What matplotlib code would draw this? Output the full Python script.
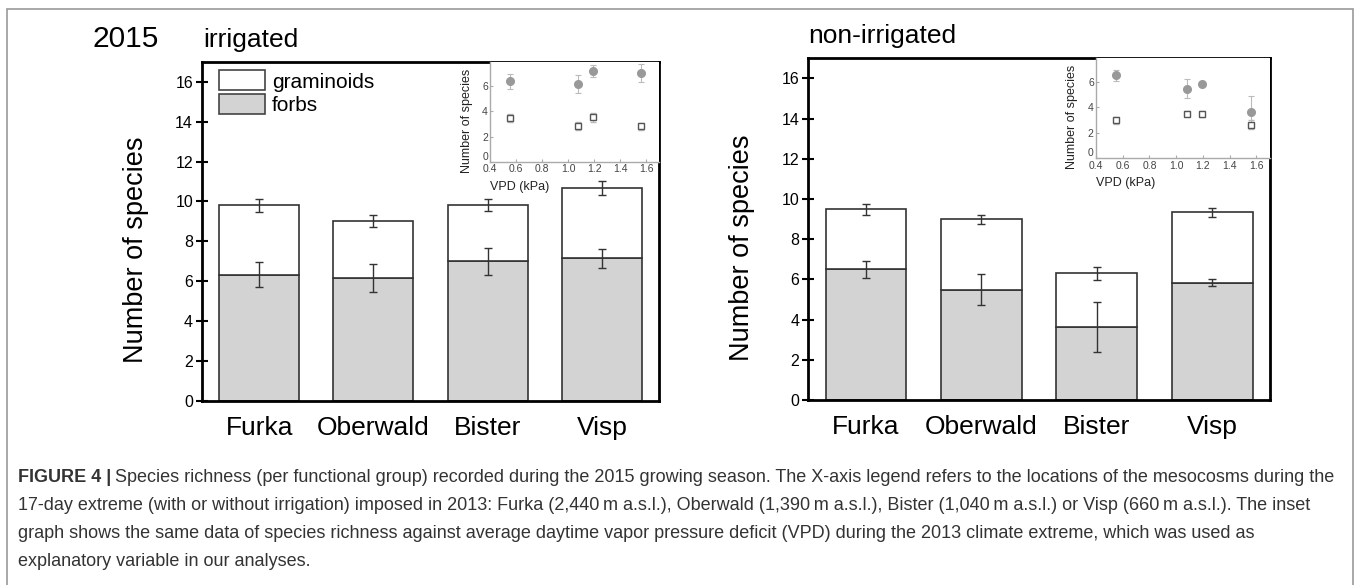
import numpy as np
import matplotlib
matplotlib.use("Agg")
import matplotlib.pyplot as plt
from matplotlib.patches import Patch, Rectangle

plt.rcParams["font.family"] = ["Liberation Sans", "DejaVu Sans"]

# Data
sites = ["Furka", "Oberwald", "Bister", "Visp"]
vpd = [0.55, 1.08, 1.56, 1.19]

irr_forbs = [6.33, 6.15, 7.00, 7.16]
irr_forbs_err = [0.62, 0.71, 0.68, 0.48]
irr_gram = [3.48, 2.86, 2.81, 3.51]
irr_gram_err = [0.33, 0.31, 0.30, 0.35]

non_forbs = [6.51, 5.48, 3.65, 5.83]
non_forbs_err = [0.43, 0.77, 1.25, 0.17]
non_gram = [2.99, 3.52, 2.66, 3.50]
non_gram_err = [0.27, 0.22, 0.33, 0.23]

yticks = [0, 2, 4, 6, 8, 10, 12, 14, 16]
inset_xticks = [0.4, 0.6, 0.8, 1.0, 1.2, 1.4, 1.6]
inset_yticks = [0, 2, 4, 6]

FORB_COLOR = "#d3d3d3"
EDGE = "#333333"

fig = plt.figure(figsize=(13.57, 5.85), dpi=100)


def draw_panel(ax, forbs, forbs_err, gram, gram_err, inset_w, inset_h, legend=False):
    x = np.arange(len(sites))
    forbs = np.array(forbs)
    gram = np.array(gram)
    total = forbs + gram

    ax.bar(x, forbs, width=0.7, color=FORB_COLOR, edgecolor=EDGE, linewidth=1.2, zorder=2)
    ax.bar(x, gram, width=0.7, bottom=forbs, color="white", edgecolor=EDGE, linewidth=1.2, zorder=2)
    ax.errorbar(x, forbs, yerr=forbs_err, fmt="none", ecolor=EDGE, elinewidth=1,
                capsize=3, capthick=1, zorder=3)
    ax.errorbar(x, total, yerr=gram_err, fmt="none", ecolor=EDGE, elinewidth=1,
                capsize=3, capthick=1, zorder=3)

    ax.set_xlim(-0.5, 3.5)
    ax.set_ylim(0, 17)
    ax.set_yticks(yticks)
    ax.set_xticks(x)
    ax.set_xticklabels(sites, fontsize=19)
    ax.tick_params(axis="x", length=0, pad=11)
    ax.tick_params(axis="y", direction="inout", length=9, width=1.5, labelsize=11.5, pad=2)
    for s in ax.spines.values():
        s.set_linewidth(2)
        s.set_color("black")
    ax.set_ylabel("Number of species", fontsize=19.5)
    ax.yaxis.set_label_coords(-0.115, 0.445)

    if legend:
        handles = [Patch(facecolor="white", edgecolor="#444444", linewidth=1.2, label="graminoids"),
                   Patch(facecolor=FORB_COLOR, edgecolor="#444444", linewidth=1.2, label="forbs")]
        ax.legend(handles=handles, loc="upper left", bbox_to_anchor=(0.037, 0.975),
                  frameon=False, fontsize=15, handlelength=2.2, handleheight=1.1,
                  handletextpad=0.35, labelspacing=0.1, borderpad=0, borderaxespad=0)

    # inset: same data against VPD
    ins = ax.inset_axes([1 - inset_w, 1 - inset_h, inset_w, inset_h])
    ins.errorbar(vpd, forbs, yerr=forbs_err, fmt="o", color="#999999", ms=5.5,
                 ecolor="#bbbbbb", elinewidth=0.8, capsize=2, capthick=0.8, zorder=3)
    ins.errorbar(vpd, gram, yerr=gram_err, fmt="s", mfc="white", mec="#555555", mew=1,
                 ms=4.5, ecolor="#bbbbbb", elinewidth=0.8, capsize=2, capthick=0.8, zorder=3)
    ins.set_xlim(0.4, 1.7)
    ins.set_ylim(0, 7.85)
    ins.set_xticks(inset_xticks)
    ins.set_xticklabels([f"{v:.1f}" for v in inset_xticks])
    ins.set_yticks(inset_yticks)
    ins.set_yticklabels([str(v) for v in inset_yticks])
    ins.tick_params(direction="in", length=2.5, width=0.8, color="#aaaaaa",
                    labelsize=7.5, labelcolor="#444444", pad=1.5)
    # lift the y "0" label a little so it sits above the "0.4" label
    ins.get_yticklabels()[0].set_verticalalignment("bottom")
    ins.spines["top"].set_visible(False)
    ins.spines["right"].set_visible(False)
    for side in ("left", "bottom"):
        ins.spines[side].set_color("#aaaaaa")
        ins.spines[side].set_linewidth(1)
    ins.set_xlabel("VPD (kPa)", fontsize=9, loc="left", labelpad=5, color="#222222")
    ins.set_ylabel("Number of species", fontsize=9, color="#222222")
    ins.yaxis.set_label_coords(-0.1, 0.415)
    return ins


ax1 = fig.add_axes([0.1489, 0.3150, 0.3368, 0.5790])
draw_panel(ax1, irr_forbs, irr_forbs_err, irr_gram, irr_gram_err, 0.370, 0.296, legend=True)

ax2 = fig.add_axes([0.5956, 0.3162, 0.3402, 0.5841])
draw_panel(ax2, non_forbs, non_forbs_err, non_gram, non_gram_err, 0.377, 0.293)

# panel titles
fig.text(93 / 1357, 1 - 47 / 585, "2015", fontsize=21.5, va="baseline", ha="left")
fig.text(203 / 1357, 1 - 47 / 585, "irrigated", fontsize=19, va="baseline", ha="left")
fig.text(808 / 1357, 1 - 43 / 585, "non-irrigated", fontsize=19, va="baseline", ha="left")

# outer frame of the figure box
fig.add_artist(Rectangle((7 / 1357, -0.05), 1346 / 1357, 1 - 9 / 585 + 0.05,
                         transform=fig.transFigure, fill=False, edgecolor="#999999", linewidth=1.2))

# caption
cap_color = "#333333"
cap_size = 13
lines = [
    "Species richness (per functional group) recorded during the 2015 growing season. The X-axis legend refers to the locations of the mesocosms during the",
    "17-day extreme (with or without irrigation) imposed in 2013: Furka (2,440\u2009m a.s.l.), Oberwald (1,390\u2009m a.s.l.), Bister (1,040\u2009m a.s.l.) or Visp (660\u2009m a.s.l.). The inset",
    "graph shows the same data of species richness against average daytime vapor pressure deficit (VPD) during the 2013 climate extreme, which was used as",
    "explanatory variable in our analyses.",
]
baselines = [482, 510, 538, 566]
x0 = 18 / 1357
t_bold = fig.text(x0, 1 - baselines[0] / 585, "FIGURE 4 |", fontsize=cap_size, fontweight="bold",
                  color=cap_color, va="baseline", ha="left")
fig.canvas.draw()
bb = t_bold.get_window_extent()
fig.text(bb.x1 / fig.bbox.width + 4 / 1357, 1 - baselines[0] / 585, lines[0], fontsize=cap_size,
         color=cap_color, va="baseline", ha="left")
for line, yb in zip(lines[1:], baselines[1:]):
    fig.text(x0, 1 - yb / 585, line, fontsize=cap_size, color=cap_color, va="baseline", ha="left")

fig.savefig("out.png", dpi=100)
